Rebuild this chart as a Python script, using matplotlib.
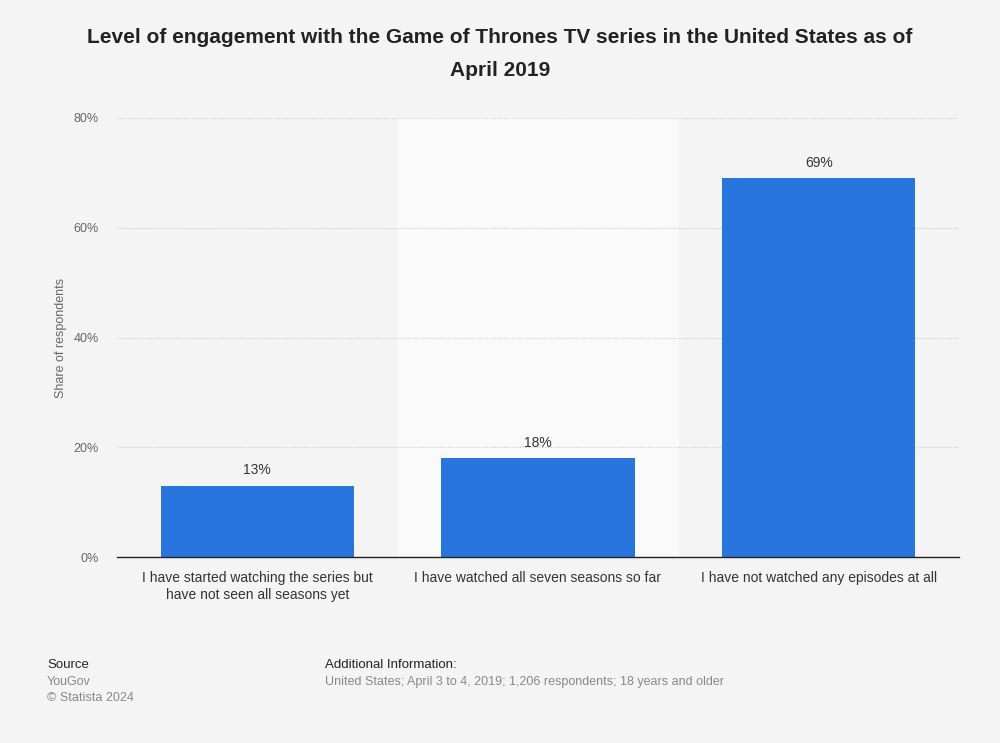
import numpy as np
from matplotlib import pyplot as plt

categories = ['I have started watching the series but\nhave not seen all seasons yet',
              'I have watched all seven seasons so far',
              'I have not watched any episodes at all']
values = [13, 18, 69]
yticks = [0, 20, 40, 60, 80]

plt.rcParams['font.family'] = ['Liberation Sans', 'DejaVu Sans']

fig = plt.figure(figsize=(10, 7.43), dpi=100, facecolor='#f4f4f4')
ax = fig.add_axes([0.117, 0.2503, 0.842, 0.5909])
ax.set_facecolor('#f4f4f4')

x = np.arange(len(categories))
ax.axvspan(0.5, 1.5, color='#fafafa', zorder=0)
bars = ax.bar(x, values, width=0.69, color='#2876dd', zorder=3)
for xi, v in zip(x, values):
    ax.text(xi, v + 1.5, '%d%%' % v, ha='center', va='bottom', fontsize=10, color='#333333')

ax.set_xlim(-0.5, 2.5)
ax.set_ylim(0, 80)
ax.set_yticks(yticks)
ax.set_yticklabels(['%d%%' % t for t in yticks])
ax.yaxis.grid(True, linestyle=(0, (1, 1.5)), color='#c8c8c8', linewidth=0.8, zorder=1)
ax.set_xticks(x)
ax.set_xticklabels(categories, fontsize=10, color='#333333', linespacing=1.3)
ax.tick_params(axis='y', length=0, labelsize=9, labelcolor='#666666', pad=13)
ax.tick_params(axis='x', length=0, pad=10)
for s in ['top', 'right', 'left']:
    ax.spines[s].set_visible(False)
ax.spines['bottom'].set_color('#222222')
ax.spines['bottom'].set_linewidth(1)
ax.spines['bottom'].set_zorder(4)
ax.set_ylabel('Share of respondents', fontsize=9, color='#666666', labelpad=5)

fig.text(0.5, 0.962, 'Level of engagement with the Game of Thrones TV series in the United States as of\nApril 2019',
         ha='center', va='top', fontsize=15, fontweight='bold', color='#222222', linespacing=1.9)

fig.text(0.047, 0.105, 'Source', fontsize=9.5, color='#222222', va='center')
fig.text(0.047, 0.082, 'YouGov', fontsize=9, color='#888888', va='center')
fig.text(0.047, 0.060, '\u00a9 Statista 2024', fontsize=9, color='#888888', va='center')
fig.text(0.325, 0.105, 'Additional Information:', fontsize=9.5, color='#222222', va='center')
fig.text(0.325, 0.082, 'United States; April 3 to 4, 2019; 1,206 respondents; 18 years and older',
         fontsize=9, color='#888888', va='center')

plt.savefig('out.png', dpi=100, facecolor=fig.get_facecolor())
